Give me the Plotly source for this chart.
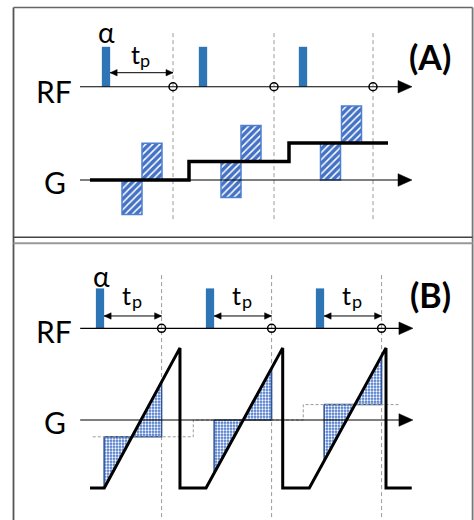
import numpy as np
import plotly.graph_objects as go

# ---------------- Panel (A): time in TR units, gradient in normalised units ----------
rf_times_A = [0.0, 0.97, 1.97]          # RF pulse centres
echo_times_A = [0.67, 1.68, 2.67]       # echo (readout) times
pulse_width_A = 0.083
rf_amp_A = 1.08
rf_row_A = 2.52                         # RF baseline offset above G baseline

stair_t_A = [-0.16, 0.83, 0.83, 1.83, 1.83, 2.82]
stair_g_A = [0.0, 0.0, 0.5, 0.5, 1.0, 1.0]

lobe_neg_t_A = [0.26, 1.25, 2.245]
lobe_pos_t_A = [0.46, 1.45, 2.455]
lobe_width_A = 0.2
lobe_base_A = [0.0, 0.5, 1.0]
lobe_neg_A = [-0.93, -0.97, -1.0]
lobe_pos_A = [0.99, 0.97, 1.0]

# ---------------- Panel (B) --------------------------------------------------------
rf_times_B = [0.0, 1.0, 2.0]
tp_B = 0.56
pulse_width_B = 0.075
rf_amp_B = 0.57
rf_row_B = 1.31

saw_t_B = [-0.091, 0.039, 0.727, 0.727, 0.964, 1.661, 1.661, 1.903, 2.6, 2.6, 2.834]
saw_g_B = [-0.97, -0.97, 1.03, -0.97, -0.97, 1.03, -0.97, -0.97, 1.03, -0.97, -0.97]

level_t_B = [-0.066, 0.848, 0.848, 1.848, 1.848, 2.727]
level_g_B = [-0.24, -0.24, 0.0, 0.0, 0.22, 0.22]

# ---------------- styles / scales --------------------------------------------------
RF_BLUE = "#2E75B6"
HATCH_BLUE = "#4472C4"
FILL_EDGE = "#2F5597"
FONT = "Lato, Noto Sans, sans-serif"
SX_A, SY_A = 100.0, 37.0     # px per unit, panel A
SX_B, SY_B = 110.0, 70.0     # px per unit, panel B

fig = go.Figure()

def axis_line(xa, ya, x0, x1, y):
    fig.add_trace(go.Scatter(x=[x0, x1], y=[y, y], mode="lines",
                             line=dict(color="black", width=1.2),
                             xaxis=xa, yaxis=ya, hoverinfo="skip"))

def vdash(xa, ya, x, y0, y1):
    fig.add_trace(go.Scatter(x=[x, x], y=[y0, y1], mode="lines",
                             line=dict(color="#9a9a9a", width=1, dash="4px,3px"),
                             xaxis=xa, yaxis=ya, hoverinfo="skip"))

def tri(xa, ya, sx, sy, xt, y, direction, L, hh):
    xb = xt - direction * L / sx
    fig.add_trace(go.Scatter(x=[xt, xb, xb, xt], y=[y, y + hh / sy, y - hh / sy, y],
                             mode="lines", fill="toself", fillcolor="black",
                             line=dict(color="black", width=0.5),
                             xaxis=xa, yaxis=ya, hoverinfo="skip"))

def dbl_arrow(xa, ya, sx, sy, x0, x1, y):
    fig.add_trace(go.Scatter(x=[x0, x1], y=[y, y], mode="lines",
                             line=dict(color="black", width=1),
                             xaxis=xa, yaxis=ya, hoverinfo="skip"))
    tri(xa, ya, sx, sy, x0, y, -1, 7, 3.2)
    tri(xa, ya, sx, sy, x1, y, 1, 7, 3.2)

# ======================= Panel A ======================================================
for e in echo_times_A:
    vdash("x", "y", e, 3.97, -1.135)
tipA = 3.06
axis_line("x", "y", -0.26, tipA - 0.1, rf_row_A)
axis_line("x", "y", -0.26, tipA - 0.1, 0.0)
tri("x", "y", SX_A, SY_A, tipA, rf_row_A, 1, 14, 6.3)
tri("x", "y", SX_A, SY_A, tipA, 0.0, 1, 14, 6.3)

fig.add_trace(go.Bar(x=rf_times_A, y=[rf_amp_A] * 3, base=[rf_row_A] * 3,
                     width=[pulse_width_A] * 3, marker=dict(color=RF_BLUE, line=dict(width=0)),
                     xaxis="x", yaxis="y", hoverinfo="skip"))

hatch = dict(shape="/", fgcolor="white", bgcolor=HATCH_BLUE, size=5, solidity=0.3,
             fillmode="replace")
fig.add_trace(go.Bar(x=lobe_neg_t_A + lobe_pos_t_A, y=lobe_neg_A + lobe_pos_A,
                     base=lobe_base_A + lobe_base_A, width=[lobe_width_A] * 6,
                     marker=dict(color=HATCH_BLUE, pattern=hatch,
                                 line=dict(color="#4f7fd0", width=1.5)),
                     xaxis="x", yaxis="y", hoverinfo="skip"))

fig.add_trace(go.Scatter(x=stair_t_A, y=stair_g_A, mode="lines",
                         line=dict(color="black", width=3.5),
                         xaxis="x", yaxis="y", hoverinfo="skip"))

fig.add_trace(go.Scatter(x=echo_times_A, y=[rf_row_A] * 3, mode="markers",
                         marker=dict(symbol="circle-open", size=8, color="black",
                                     line=dict(width=1.5, color="black")),
                         xaxis="x", yaxis="y", hoverinfo="skip"))

dbl_arrow("x", "y", SX_A, SY_A, rf_times_A[0] + pulse_width_A / 2, echo_times_A[0], 2.9)

# ======================= Panel B ======================================================
for t in rf_times_B:
    vdash("x2", "y2", t + tp_B, 2.07, -1.5)

dots = dict(shape=".", fgcolor="white", bgcolor="#4a78c8", size=3, solidity=0.45,
            fillmode="replace")
for i, t in enumerate(rf_times_B):
    xa = t + pulse_width_B / 2
    xb = t + tp_B
    r0, r1 = saw_t_B[1 + 3 * i], saw_t_B[2 + 3 * i]
    g0, g1 = saw_g_B[1 + 3 * i], saw_g_B[2 + 3 * i]
    lev = level_g_B[2 * i]
    ga = float(np.interp(xa, [r0, r1], [g0, g1]))
    gb = float(np.interp(xb, [r0, r1], [g0, g1]))
    fig.add_trace(go.Scatter(x=[xa, xa, xb, xb, xa], y=[lev, ga, gb, lev, lev],
                             mode="lines", fill="toself", fillcolor="#4a78c8",
                             fillpattern=dots, line=dict(color=FILL_EDGE, width=1.5),
                             xaxis="x2", yaxis="y2", hoverinfo="skip"))

fig.add_trace(go.Scatter(x=level_t_B, y=level_g_B, mode="lines",
                         line=dict(color="#9a9a9a", width=1, dash="3px,2px"),
                         xaxis="x2", yaxis="y2", hoverinfo="skip"))
tipB = 2.845
axis_line("x2", "y2", -0.18, tipB - 0.1, rf_row_B)
axis_line("x2", "y2", -0.18, tipB - 0.1, 0.0)
tri("x2", "y2", SX_B, SY_B, tipB, rf_row_B, 1, 14, 6.3)
tri("x2", "y2", SX_B, SY_B, tipB, 0.0, 1, 14, 6.3)

fig.add_trace(go.Bar(x=rf_times_B, y=[rf_amp_B] * 3, base=[rf_row_B] * 3,
                     width=[pulse_width_B] * 3, marker=dict(color=RF_BLUE, line=dict(width=0)),
                     xaxis="x2", yaxis="y2", hoverinfo="skip"))

fig.add_trace(go.Scatter(x=saw_t_B, y=saw_g_B, mode="lines",
                         line=dict(color="black", width=3),
                         xaxis="x2", yaxis="y2", hoverinfo="skip"))

fig.add_trace(go.Scatter(x=[t + tp_B for t in rf_times_B], y=[rf_row_B] * 3, mode="markers",
                         marker=dict(symbol="circle-open", size=8, color="black",
                                     line=dict(width=1.5, color="black")),
                         xaxis="x2", yaxis="y2", hoverinfo="skip"))

for t in rf_times_B:
    dbl_arrow("x2", "y2", SX_B, SY_B, t + pulse_width_B / 2, t + tp_B, 1.486)

# ======================= text =======================================================
ann = []

def txt(xr, yr, x, y, s, size, bold=False):
    ann.append(dict(x=x, y=y, xref=xr, yref=yr, text=f"<b>{s}</b>" if bold else s,
                    showarrow=False, xanchor="center", yanchor="middle",
                    font=dict(family=FONT, size=size, color="black")))

txt("x", "y", 0.0, 4.0, "α", 28)
txt("x", "y", 0.29, 3.405, "t", 25)
txt("x", "y", 0.385, 3.24, "p", 18)
txt("x", "y", -0.52, 2.4, "RF", 30)
txt("x", "y", -0.51, -0.05, "G", 30)
txt("x", "y", 3.24, 3.35, "(A)", 34, bold=True)

for t in rf_times_B:
    txt("x2", "y2", t + 0.243, 1.79, "t", 25)
    txt("x2", "y2", t + 0.335, 1.70, "p", 18)
txt("x2", "y2", 0.01, 2.06, "α", 28)
txt("x2", "y2", -0.42, 1.27, "RF", 30)
txt("x2", "y2", -0.41, -0.03, "G", 30)
txt("x2", "y2", 3.0, 1.8, "(B)", 34, bold=True)

# ======================= frame ======================================================
W, H = 474.0, 520.0
def px(xp): return xp / W
def py(yp): return 1 - yp / H
shapes = [
    dict(type="line", xref="paper", yref="paper", x0=px(13.5), x1=px(13.5), y0=py(7.5), y1=py(521),
         line=dict(color="#555555", width=1.8)),
    dict(type="line", xref="paper", yref="paper", x0=px(13.5), x1=px(472.6), y0=py(7.5), y1=py(7.5),
         line=dict(color="#666666", width=1.5)),
    dict(type="line", xref="paper", yref="paper", x0=px(472.6), x1=px(472.6), y0=py(7.5), y1=py(521),
         line=dict(color="#777777", width=1.8)),
    dict(type="line", xref="paper", yref="paper", x0=px(13.5), x1=px(472.6), y0=py(237.3), y1=py(237.3),
         line=dict(color="#444444", width=1.5)),
    dict(type="line", xref="paper", yref="paper", x0=px(13.5), x1=px(472.6), y0=py(243.3), y1=py(243.3),
         line=dict(color="#999999", width=2)),
]

split = 1 - 240 / H
hidden = dict(visible=False, showgrid=False, zeroline=False, fixedrange=True)
fig.update_layout(
    width=474, height=520, margin=dict(l=0, r=0, t=0, b=0),
    paper_bgcolor="white", plot_bgcolor="white", showlegend=False,
    barmode="overlay",
    xaxis=dict(domain=[0, 1], range=[-1.06, 3.68], anchor="y", **hidden),
    yaxis=dict(domain=[split, 1], range=[-60 / 37, 180 / 37], anchor="x", **hidden),
    xaxis2=dict(domain=[0, 1], range=[-100 / 110, 374 / 110], anchor="y2", **hidden),
    yaxis2=dict(domain=[0, split], range=[-100 / 70, 180 / 70], anchor="x2", **hidden),
    annotations=ann, shapes=shapes,
)

fig.write_html("out.html", config={"displayModeBar": False},
               post_script="document.body.style.margin='0';document.body.style.overflow='hidden';")
